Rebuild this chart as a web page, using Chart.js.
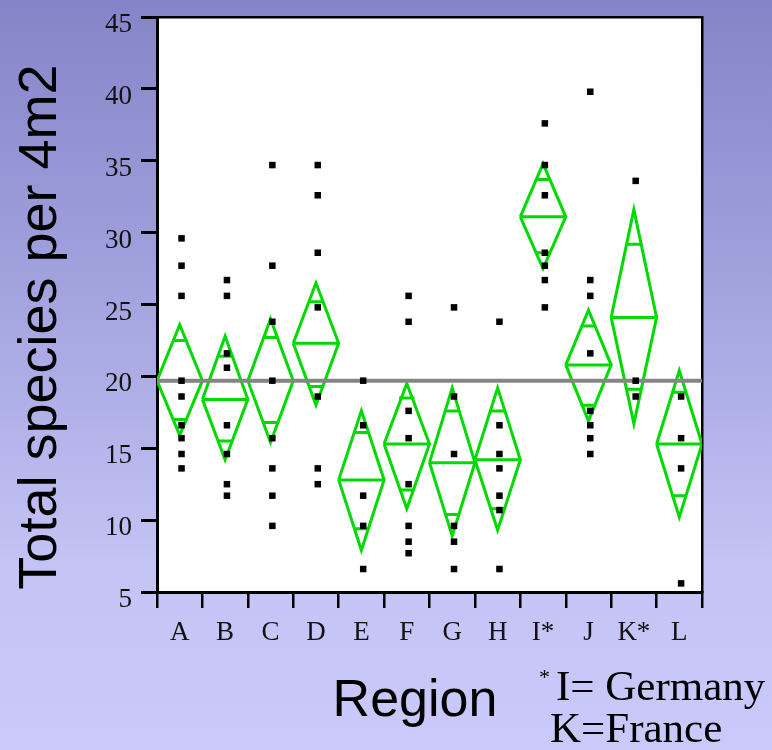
<!DOCTYPE html>
<html>
<head>
<meta charset="utf-8">
<script src="https://cdn.jsdelivr.net/npm/chart.js@4.4.1/dist/chart.umd.min.js"></script>
<style>
  html, body { margin: 0; padding: 0; }
  #wrap {
    width: 772px; height: 750px; position: relative;
    background: linear-gradient(to bottom, #8484c8 0%, #a4a4e0 40%, #c3c3f5 75%, #c9c9fa 100%);
  }
</style>
</head>
<body>
<div id="wrap"><canvas id="diamondChart"></canvas></div>
<script>
// Regions (x axis) and their tick labels
const regions = ['A', 'B', 'C', 'D', 'E', 'F', 'G', 'H', 'I*', 'J', 'K*', 'L'];

// Means diamonds: mean, 95% CI top / bottom, overlap marks
const means     = [19.7, 18.4, 19.7, 22.3, 12.8, 15.3, 14.0, 14.2, 31.1, 20.8, 24.1, 15.3];
const ciHigh    = [23.6, 22.8, 24.0, 26.5, 17.6, 19.5, 19.2, 19.2, 34.8, 24.6, 31.6, 20.4];
const ciLow     = [15.9, 14.2, 15.4, 18.0,  7.9, 10.8,  8.9,  9.3, 27.5, 16.9, 16.7, 10.2];
const overlapHi = [22.5, 21.4, 22.7, 25.2, 16.1, 18.5, 17.6, 17.6, 33.7, 23.5, 29.2, 18.9];
const overlapLo = [17.0, 15.5, 16.8, 19.3,  9.4, 12.1, 10.4, 10.8, 28.6, 18.0, 19.1, 11.7];

const grandMean = 19.7;

// Observed totals per region
const obsA = [29.6, 27.7, 25.6, 19.7, 18.6, 16.6, 15.7, 14.6, 13.6];
const obsB = [26.7, 25.6, 21.6, 20.6, 16.6, 14.6, 12.5, 11.7];
const obsC = [34.7, 27.7, 23.8, 19.7, 15.7, 13.6, 11.7, 9.6];
const obsD = [34.7, 32.6, 28.6, 24.8, 18.6, 13.6, 12.5];
const obsE = [19.7, 16.6, 11.7, 9.6, 6.6];
const obsF = [25.6, 23.8, 17.6, 15.7, 12.5, 9.6, 8.5, 7.7];
const obsG = [24.8, 18.6, 14.6, 9.6, 8.5, 6.6];
const obsH = [23.8, 16.6, 14.6, 13.6, 11.7, 10.7, 6.6];
const obsI = [37.6, 34.7, 32.6, 28.6, 27.7, 26.7, 24.8];
const obsJ = [39.8, 26.7, 25.6, 21.6, 17.6, 16.6, 15.7, 14.6];
const obsK = [33.6, 19.7, 18.6];
const obsL = [18.6, 15.7, 13.6, 5.6];
const observations = [obsA, obsB, obsC, obsD, obsE, obsF, obsG, obsH, obsI, obsJ, obsK, obsL];

const yTicks = [5, 10, 15, 20, 25, 30, 35, 40, 45];

const green = '#00da00';
const gap = { x: null, y: null };

// diamond outlines, one polygon per region, broken by gaps
const diamondPts = [];
regions.forEach((r, i) => {
    diamondPts.push(
        { x: i - 0.5, y: means[i] }, { x: i, y: ciHigh[i] },
        { x: i + 0.5, y: means[i] }, { x: i, y: ciLow[i] },
        { x: i - 0.5, y: means[i] }, gap);
});

// mean lines and overlap marks
const markPts = [];
regions.forEach((r, i) => {
    markPts.push({ x: i - 0.5, y: means[i] }, { x: i + 0.5, y: means[i] }, gap);
    markPts.push({ x: i - 0.17, y: overlapHi[i] }, { x: i + 0.17, y: overlapHi[i] }, gap);
    markPts.push({ x: i - 0.17, y: overlapLo[i] }, { x: i + 0.17, y: overlapLo[i] }, gap);
});

const obsPts = [];
observations.forEach((vals, i) => vals.forEach(v => obsPts.push({ x: i + 0.04, y: v })));

const chartBg = {
    id: 'chartBg',
    beforeDraw(chart) {
        const { ctx, chartArea: a } = chart;
        ctx.save();
        ctx.fillStyle = '#ffffff';
        ctx.fillRect(a.left, a.top, a.right - a.left, a.bottom - a.top);
        ctx.restore();
    }
};

const titles = {
    id: 'titles',
    afterDraw(chart) {
        const ctx = chart.ctx;
        ctx.save();
        ctx.fillStyle = '#000';
        ctx.textBaseline = 'alphabetic';
        // y title
        ctx.save();
        ctx.translate(56, 327);
        ctx.rotate(-Math.PI / 2);
        ctx.textAlign = 'center';
        ctx.font = '54px "Liberation Sans", Arial, sans-serif';
        ctx.fillText('Total species per 4m2', 0, 0);
        ctx.restore();
        // x title
        ctx.textAlign = 'center';
        ctx.font = '52px "Liberation Sans", Arial, sans-serif';
        ctx.fillText('Region', 415, 716);
        // footnote
        ctx.textAlign = 'left';
        ctx.font = '22px "Liberation Serif", "Times New Roman", serif';
        ctx.fillText('*', 539, 684);
        ctx.font = '43px "Liberation Serif", "Times New Roman", serif';
        ctx.fillText('I= Germany', 556, 700);
        ctx.fillText('K=France', 550, 742);
        ctx.restore();
    }
};

const ctx = document.getElementById('diamondChart').getContext('2d');
const diamondChart = new Chart(ctx, {
    type: 'line',
    data: {
        datasets: [{
            label: 'observations',
            type: 'scatter',
            data: obsPts,
            showLine: false,
            pointStyle: 'rect',
            pointRadius: 4.6,
            pointBorderWidth: 0,
            backgroundColor: '#000',
            borderColor: '#000',
            order: 0
        }, {
            label: 'grand mean',
            data: [{ x: -0.5, y: grandMean }, { x: 11.5, y: grandMean }],
            borderColor: '#858585',
            borderWidth: 4,
            pointRadius: 0,
            order: 1
        }, {
            label: 'means',
            data: markPts,
            borderColor: green,
            borderWidth: 3,
            pointRadius: 0,
            spanGaps: false,
            order: 2
        }, {
            label: 'diamonds',
            data: diamondPts,
            borderColor: green,
            borderWidth: 3,
            pointRadius: 0,
            spanGaps: false,
            tension: 0,
            order: 3
        }]
    },
    options: {
        responsive: true,
        maintainAspectRatio: false,
        animation: false,
        layout: { padding: { top: 17, right: 70, left: 0, bottom: 0 } },
        plugins: { legend: { display: false }, tooltip: { enabled: false } },
        scales: {
            x: {
                type: 'linear',
                position: 'bottom',
                min: -0.5,
                max: 11.5,
                afterFit: s => { s.height = 158; s.paddingLeft = 0; s.paddingRight = 0; },
                afterBuildTicks: s => {
                    const t = [];
                    for (let i = 0; i <= regions.length; i++) t.push({ value: i - 0.5 });
                    regions.forEach((r, i) => t.push({ value: i }));
                    s.ticks = t;
                },
                border: { display: true, color: '#000', width: 3 },
                grid: {
                    drawOnChartArea: false,
                    tickLength: 16,
                    lineWidth: 2.5,
                    color: c => (c.tick && Number.isInteger(c.tick.value)) ? 'rgba(0,0,0,0)' : '#000'
                },
                ticks: {
                    autoSkip: false,
                    maxRotation: 0,
                    padding: 9,
                    color: '#111',
                    font: { family: '"Liberation Serif", "Times New Roman", serif', size: 27 },
                    callback: v => Number.isInteger(v) ? regions[v] : ''
                }
            },
            xTop: {
                type: 'linear',
                position: 'top',
                min: -0.5,
                max: 11.5,
                afterFit: s => { s.height = 0; s.paddingLeft = 0; s.paddingRight = 0; },
                border: { display: true, color: '#000', width: 2.5 },
                grid: { display: false },
                ticks: { display: false }
            },
            y: {
                min: 5,
                max: 45,
                afterFit: s => { s.width = 157; s.paddingTop = 0; s.paddingBottom = 0; },
                afterBuildTicks: s => { s.ticks = yTicks.map(v => ({ value: v })); },
                border: { display: true, color: '#000', width: 3 },
                grid: { drawOnChartArea: false, tickLength: 16, lineWidth: 3, color: '#000' },
                ticks: {
                    padding: 9,
                    labelOffset: 8,
                    color: '#111',
                    font: { family: '"Liberation Serif", "Times New Roman", serif', size: 27 }
                }
            },
            yRight: {
                position: 'right',
                min: 5,
                max: 45,
                afterFit: s => { s.width = 0; s.paddingTop = 0; s.paddingBottom = 0; },
                border: { display: true, color: '#000', width: 2.5 },
                grid: { display: false },
                ticks: { display: false }
            }
        }
    },
    plugins: [chartBg, titles]
});
</script>
</body>
</html>
